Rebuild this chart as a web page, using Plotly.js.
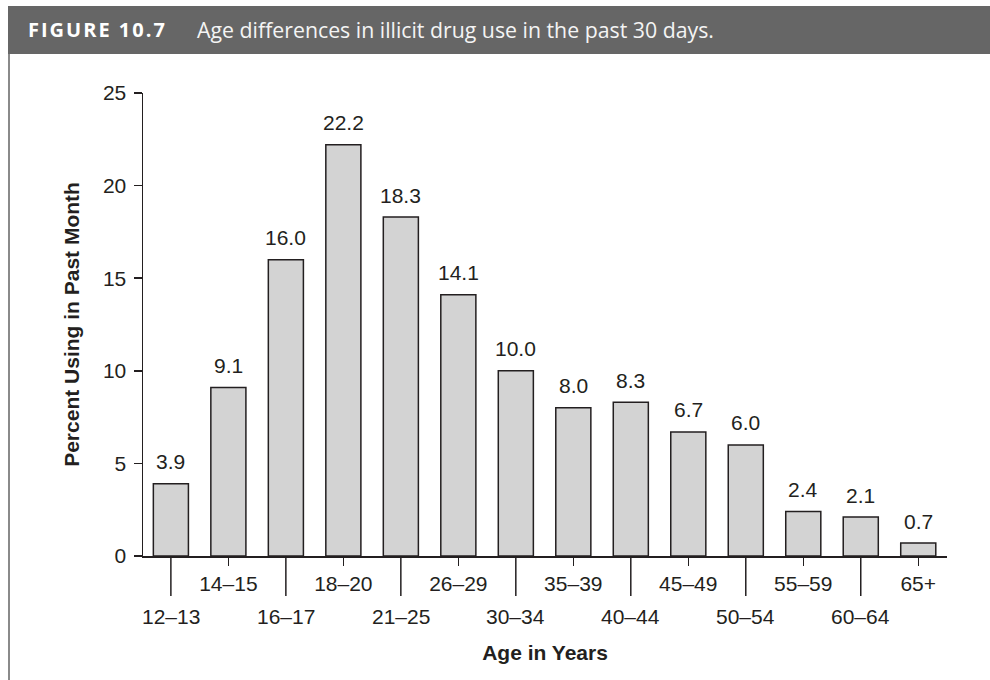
<!DOCTYPE html>
<html>
<head>
<meta charset="utf-8">
<script src="https://cdn.plot.ly/plotly-3.0.1.min.js"></script>
<style>
  html, body { margin: 0; padding: 0; background: #ffffff; }
  #chart { width: 990px; height: 680px; }
</style>
</head>
<body>
<div id="chart"></div>
<script>
// Age groups and the share of each group using illicit drugs in the past month (%)
const ageGroups = ['12–13', '14–15', '16–17', '18–20', '21–25', '26–29', '30–34',
                   '35–39', '40–44', '45–49', '50–54', '55–59', '60–64', '65+'];
const percentUsing = [3.9, 9.1, 16.0, 22.2, 18.3, 14.1, 10.0, 8.0, 8.3, 6.7, 6.0, 2.4, 2.1, 0.7];
const yTicks = [0, 5, 10, 15, 20, 25];

const figureLabel = 'FIGURE 10.7';
const figureCaption = 'Age differences in illicit drug use in the past 30 days.';
const xTitle = 'Age in Years';
const yTitle = 'Percent Using in Past Month';

const ink = '#231f20';
const sans = "'Liberation Sans', Arial, Helvetica, sans-serif";
const baseFont = { family: sans, size: 21, color: ink };
const titleFont = { family: sans, size: 21, color: ink };

// Labels alternate between two rows: the upper row sits on short ticks,
// the lower row hangs from long ticks.
const upperRow = ageGroups.filter((_, i) => i % 2 === 1);
const lowerRow = ageGroups.filter((_, i) => i % 2 === 0);

const trace = {
  type: 'bar',
  x: ageGroups,
  y: percentUsing,
  width: 0.61,
  marker: { color: '#d3d3d3', line: { color: ink, width: 1.5 } },
  hoverinfo: 'x+y'
};

// Plot-area geometry in pixels, used to place the header band and tick rows
const L = 143, R = 947, T = 93, B = 556;
const pw = R - L, ph = B - T;
const px = v => (v - L) / pw;
const py = v => (B - v) / ph;

// Value labels above each bar
const valueLabels = ageGroups.map((g, i) => ({
  x: g, y: percentUsing[i], xref: 'x', yref: 'y',
  text: percentUsing[i].toFixed(1),
  showarrow: false, yanchor: 'middle', yshift: 22,
  font: baseFont
}));

// Lower-row tick labels
const lowerLabels = lowerRow.map(g => ({
  x: g, y: 0, xref: 'x', yref: 'paper',
  text: g, showarrow: false, yanchor: 'middle', yshift: -60,
  font: baseFont
}));

// Long ticks for the lower row
const longTicks = lowerRow.map(g => ({
  type: 'line', xref: 'x', yref: 'paper',
  x0: g, x1: g, y0: 0, y1: -40 / ph,
  line: { color: ink, width: 1.5 }
}));

// Header band and frame line
const frame = [
  { type: 'rect', xref: 'paper', yref: 'paper', layer: 'below',
    x0: px(8), x1: px(995), y0: py(54), y1: py(6),
    fillcolor: '#666666', line: { width: 0 } },
  { type: 'line', xref: 'paper', yref: 'paper',
    x0: px(9), x1: px(9), y0: py(54), y1: py(685),
    line: { color: '#8a8a8a', width: 2 } }
];

const headerText = [
  { xref: 'paper', yref: 'paper', x: px(26), y: py(30), xanchor: 'left', yanchor: 'middle',
    text: '<b>' + figureLabel.split('').join('\u200A') + '</b>', showarrow: false,
    font: { family: "'Open Sans', sans-serif", size: 20, color: '#ffffff' } },
  { xref: 'paper', yref: 'paper', x: px(195), y: py(30), xanchor: 'left', yanchor: 'middle',
    text: figureCaption, showarrow: false,
    font: { family: "'Open Sans', sans-serif", size: 21.3, color: '#f4f4f4' } }
];

const layout = {
  width: 990, height: 680,
  margin: { l: L, r: 990 - R, t: T, b: 680 - B, pad: 0 },
  paper_bgcolor: '#ffffff', plot_bgcolor: '#ffffff',
  showlegend: false,
  font: baseFont,
  xaxis: {
    type: 'category',
    categoryarray: ageGroups, categoryorder: 'array',
    range: [-0.485, 13.5],
    tickmode: 'array', tickvals: upperRow, ticktext: upperRow,
    ticks: 'outside', ticklen: 8, tickwidth: 1.5, tickcolor: ink,
    showline: true, linecolor: ink, linewidth: 1.5,
    showgrid: false, zeroline: false,
    tickfont: baseFont,
    title: { text: '<b>' + xTitle + '</b>', font: titleFont, standoff: 51 },
    automargin: false
  },
  yaxis: {
    range: [0, 25],
    tickmode: 'array', tickvals: yTicks, ticktext: yTicks.map(String),
    ticks: 'outside', ticklen: 8, tickwidth: 1.5, tickcolor: ink,
    showline: true, linecolor: ink, linewidth: 1.5,
    showgrid: false, zeroline: false,
    tickfont: baseFont,
    ticklabelstandoff: 3,
    title: { text: '<b>' + yTitle + '</b>', font: titleFont, standoff: 17 },
    automargin: false
  },
  shapes: frame.concat(longTicks),
  annotations: headerText.concat(valueLabels, lowerLabels)
};

Plotly.newPlot('chart', [trace], layout, { displayModeBar: false, staticPlot: true });
</script>
</body>
</html>
